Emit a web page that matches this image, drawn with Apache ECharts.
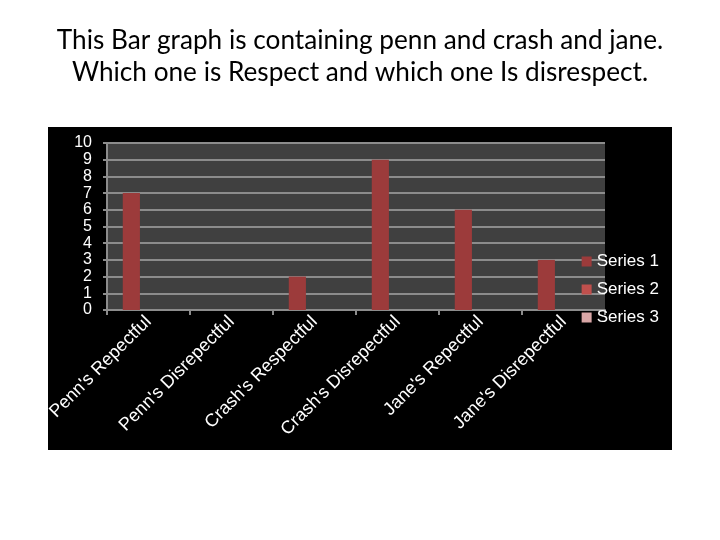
<!DOCTYPE html>
<html>
<head>
<meta charset="utf-8">
<script src="https://cdn.jsdelivr.net/npm/echarts@6/dist/echarts.min.js"></script>
<style>
html,body{margin:0;padding:0;background:#fff;}
#c{width:720px;height:540px;}
</style>
</head>
<body>
<div id="c"></div>
<script>
var categories = ["Penn's Repectful", "Penn's Disrepectful", "Crash's Respectful", "Crash's Disrepectful", "Jane's Repectful", "Jane's Disrepectful"];
var series1 = [7, null, 2, 9, 6, 3];
var series2 = [null, null, null, null, null, null];
var series3 = [null, null, null, null, null, null];
var seriesNames = ['Series 1', 'Series 2', 'Series 3'];
var yTicks = [0, 1, 2, 3, 4, 5, 6, 7, 8, 9, 10];

var chart = echarts.init(document.getElementById('c'), null, {renderer: 'canvas'});
var colors = ['#9c3b3b', '#c0504d', '#d9a6a6'];
chart.setOption({
  backgroundColor: '#ffffff',
  animation: false,
  title: {
    text: 'This Bar graph is containing penn and crash and jane.\nWhich one is Respect and which one Is disrespect.',
    left: 'center',
    top: 20,
    textStyle: {fontFamily: 'Lato', fontWeight: 'normal', fontSize: 26.2, color: '#000', lineHeight: 32}
  },
  graphic: [{
    type: 'rect', z: -10, silent: true,
    shape: {x: 48, y: 127, width: 624, height: 323},
    style: {fill: '#000000'}
  }],
  legend: {
    orient: 'vertical',
    right: 56,
    top: 248,
    itemWidth: 10,
    itemHeight: 10,
    itemGap: 11,
    icon: 'rect',
    textStyle: {color: '#ffffff', fontFamily: 'Liberation Sans', fontSize: 17}
  },
  grid: {
    left: 107, right: 115, top: 143, bottom: 230,
    show: true, backgroundColor: '#404040', borderWidth: 0
  },
  xAxis: {
    type: 'category',
    data: categories,
    axisLine: {lineStyle: {color: '#8c8c8c', width: 2}},
    axisTick: {show: true, length: 5, lineStyle: {color: '#8c8c8c', width: 2}},
    axisLabel: {rotate: 45, color: '#ffffff', fontFamily: 'Liberation Sans', fontSize: 18, margin: 9, interval: 0}
  },
  yAxis: {
    type: 'value',
    min: yTicks[0], max: yTicks[yTicks.length - 1], interval: 1,
    axisLine: {show: true, lineStyle: {color: '#8c8c8c', width: 2}},
    axisTick: {show: true, length: 4, lineStyle: {color: '#8c8c8c', width: 2}},
    axisLabel: {color: '#ffffff', fontFamily: 'Liberation Sans', fontSize: 16, margin: 15},
    splitLine: {show: true, lineStyle: {color: '#8c8c8c', width: 2}}
  },
  series: [
    {name: seriesNames[0], type: 'bar', data: series1, itemStyle: {color: colors[0]}, barGap: '0%', barCategoryGap: '38%'},
    {name: seriesNames[1], type: 'bar', data: series2, itemStyle: {color: colors[1]}, barGap: '0%', barCategoryGap: '38%'},
    {name: seriesNames[2], type: 'bar', data: series3, itemStyle: {color: colors[2]}, barGap: '0%', barCategoryGap: '38%'}
  ]
});
</script>
</body>
</html>
